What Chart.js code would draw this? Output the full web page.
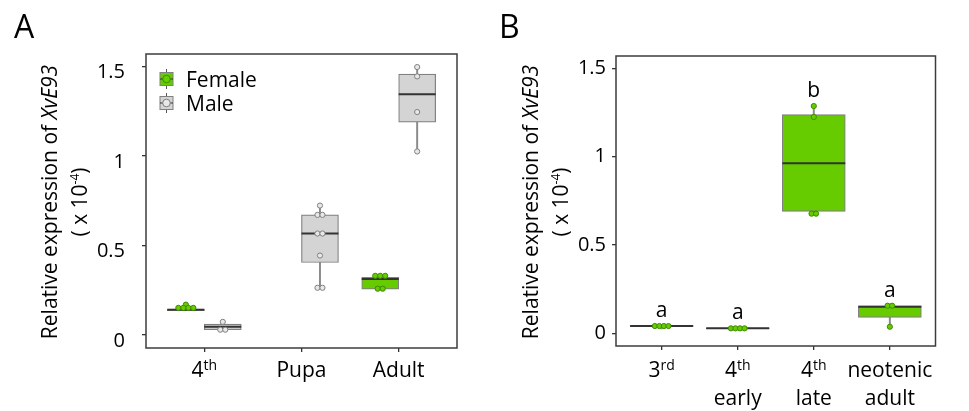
<!DOCTYPE html>
<html>
<head>
<meta charset="utf-8">
<script src="https://cdn.jsdelivr.net/npm/chart.js@4.4.1/dist/chart.umd.min.js"></script>
<style>
  body { margin: 0; background: #fff; width: 969px; height: 411px; overflow: hidden; position: relative; }
  canvas { position: absolute; top: 0; }
  #graficoA { left: 0; }
  #graficoB { left: 480px; }
</style>
</head>
<body>
<canvas id="graficoA" width="480" height="411"></canvas>
<canvas id="graficoB" width="489" height="411"></canvas>
<script>

// ---------------- datos panel A ----------------
const categoriasA = ['4th', 'Pupa', 'Adult'];
const etiquetaBaseA = ['4', 'Pupa', 'Adult'];
const etiquetaSupA = ['th', '', ''];

// Female (hembra): min, Q1, mediana, Q3, max
const hembraMinA = [0.137, null, 0.257];
const hembraQ1A  = [0.137, null, 0.257];
const hembraMedA = [0.141, null, 0.313];
const hembraQ3A  = [0.145, null, 0.323];
const hembraMaxA = [0.170, null, 0.331];
const hembraPuntosA = [[0.152, 0.152, 0.152, 0.152, 0.170], [], [0.331, 0.331, 0.331, 0.259, 0.259]];

// Male (macho)
const machoMinA = [0.030, 0.264, 1.025];
const machoQ1A  = [0.030, 0.405, 1.189];
const machoMedA = [0.046, 0.567, 1.345];
const machoQ3A  = [0.061, 0.671, 1.457];
const machoMaxA = [0.074, 0.723, 1.496];
const machoPuntosA = [[0.074, 0.030, 0.030], [0.723, 0.671, 0.671, 0.567, 0.567, 0.444, 0.264, 0.264], [1.496, 1.444, 1.245, 1.025]];

// ---------------- datos panel B ----------------
const categoriasB = ['3rd', '4th early', '4th late', 'neotenic adult'];
const etiquetaBaseB = ['3', '4', '4', 'neotenic'];
const etiquetaSupB = ['rd', 'th', 'th', ''];
const etiquetaLinea2B = ['', 'early', 'late', 'adult'];

const minB = [0.025, 0.024, 0.677, 0.037];
const q1B  = [0.038, 0.026, 0.690, 0.090];
const medB = [0.041, 0.028, 0.962, 0.150];
const q3B  = [0.043, 0.030, 1.237, 0.156];
const maxB = [0.043, 0.030, 1.286, 0.156];
const puntosB = [[0.041, 0.041, 0.041, 0.041], [0.028, 0.028, 0.028, 0.028], [1.286, 1.224, 0.677, 0.677], [0.156, 0.156, 0.037]];
const letrasB = ['a', 'a', 'b', 'a'];

const ticksY = [0, 0.5, 1, 1.5];

// ---------------- estilos ----------------
const FUENTE = '"Open Sans", "Noto Sans", sans-serif';
const VERDE = '#66cc00';
const VERDE_OSCURO = '#3d8a00';
const GRIS = '#d4d4d4';
const GRIS_PUNTO = '#e8e8e8';
const BORDE_CAJA = '#808080';
const DESPLAZA_A = 0.19;     // separacion hembra / macho
const ANCHO_CAJA_A = 37;     // px
const ANCHO_CAJA_B = 63;     // px
const PASO_A = 5 / 97.2;     // separacion de puntos en unidades de x
const PASO_B = 5 / 83.8;

// reparte puntos casi iguales en una fila horizontal (tipo dotplot)
function enjambre(centro, valores, paso) {
  const filas = [];
  valores.slice().sort((a, b) => b - a).forEach(v => {
    const fila = filas.find(f => Math.abs(f[0] - v) < 0.012);
    if (fila) fila.push(v); else filas.push([v]);
  });
  const res = [];
  filas.forEach(f => f.forEach((v, k) => res.push({ x: centro + (k - (f.length - 1) / 2) * paso, y: v })));
  return res;
}

function datasetsCaja(nombre, centros, mn, q1, med, q3, mx, puntos, relleno, rellenoPunto, bordePunto, ancho, paso) {
  const idx = centros.map((c, i) => i).filter(i => med[i] !== null);
  let pts = [];
  idx.forEach(i => { pts = pts.concat(enjambre(centros[i], puntos[i], paso)); });
  return [
    {
      type: 'bar', label: nombre + ' bigote', grouped: false, order: 3,
      data: idx.map(i => ({ x: centros[i], y: [mn[i], mx[i]] })),
      backgroundColor: '#8a8a8a', barThickness: 1.3
    },
    {
      type: 'bar', label: nombre, grouped: false, order: 2,
      data: idx.map(i => ({ x: centros[i], y: [q1[i], q3[i]] })),
      backgroundColor: relleno, borderColor: BORDE_CAJA, borderWidth: 1.2,
      borderSkipped: false, barThickness: ancho
    },
    {
      type: 'line', label: nombre + ' mediana', showLine: false, order: 1,
      data: idx.map(i => ({ x: centros[i], y: med[i] })),
      pointStyle: 'line', pointRadius: ancho / 2, pointBorderColor: '#333', pointBorderWidth: 2
    },
    {
      type: 'line', label: nombre + ' puntos', showLine: false, order: 0,
      data: pts,
      pointRadius: 2.6, pointBackgroundColor: rellenoPunto, pointBorderColor: bordePunto, pointBorderWidth: 1
    }
  ];
}

// texto con partes de distinta fuente, centrado en cx
function textoMixto(ctx, partes, cx, base) {
  let total = 0;
  partes.forEach(p => { ctx.font = p.fuente; p.w = ctx.measureText(p.texto).width; total += p.w; });
  let x = cx - total / 2;
  ctx.textAlign = 'left';
  ctx.textBaseline = 'alphabetic';
  partes.forEach(p => { ctx.font = p.fuente; ctx.fillText(p.texto, x, base - (p.subir || 0)); x += p.w; });
}

function dibujarTituloY(ctx, x1, x2, yc) {
  ctx.save();
  ctx.fillStyle = '#000';
  ctx.translate(x1, yc);
  ctx.rotate(-Math.PI / 2);
  textoMixto(ctx, [
    { texto: 'Relative expression of ', fuente: '21px ' + FUENTE },
    { texto: 'XvE93', fuente: 'italic 21px ' + FUENTE }
  ], 0, 0);
  ctx.restore();
  ctx.save();
  ctx.fillStyle = '#000';
  ctx.translate(x2, yc);
  ctx.rotate(-Math.PI / 2);
  textoMixto(ctx, [
    { texto: '( x 10', fuente: '21px ' + FUENTE },
    { texto: '-4', fuente: '12px ' + FUENTE, subir: 8 },
    { texto: ')', fuente: '21px ' + FUENTE }
  ], 0, 0);
  ctx.restore();
}

function dibujarEtiquetasX(chart, base, sup, linea2) {
  const ctx = chart.ctx;
  const escalaX = chart.scales.x;
  ctx.save();
  ctx.fillStyle = '#000';
  base.forEach((txt, i) => {
    const px = escalaX.getPixelForValue(i + 1);
    const partes = [{ texto: txt, fuente: '21px ' + FUENTE }];
    if (sup[i]) partes.push({ texto: sup[i], fuente: '14px ' + FUENTE, subir: 7 });
    textoMixto(ctx, partes, px, 376.5);
    if (linea2 && linea2[i]) textoMixto(ctx, [{ texto: linea2[i], fuente: '21px ' + FUENTE }], px, 405);
  });
  ctx.restore();
}

function dibujarMarco(chart) {
  const ctx = chart.ctx, a = chart.chartArea;
  ctx.save();
  ctx.strokeStyle = '#3c3c3c';
  ctx.lineWidth = 1.5;
  ctx.strokeRect(a.left, a.top, a.right - a.left, a.bottom - a.top);
  ctx.restore();
}

function dibujarLeyenda(ctx) {
  const items = [
    { texto: 'Female', relleno: VERDE, punto: VERDE, borde: VERDE_OSCURO, y: 79 },
    { texto: 'Male', relleno: GRIS, punto: GRIS_PUNTO, borde: BORDE_CAJA, y: 103 }
  ];
  ctx.save();
  items.forEach(it => {
    const cx = 166.5;
    ctx.strokeStyle = '#555';
    ctx.lineWidth = 1;
    ctx.beginPath(); ctx.moveTo(cx, it.y - 10); ctx.lineTo(cx, it.y + 10); ctx.stroke();
    ctx.fillStyle = it.relleno;
    ctx.fillRect(cx - 6.5, it.y - 6.5, 13, 13);
    ctx.strokeStyle = BORDE_CAJA;
    ctx.strokeRect(cx - 6.5, it.y - 6.5, 13, 13);
    ctx.strokeStyle = '#333';
    ctx.beginPath(); ctx.moveTo(cx - 6.5, it.y); ctx.lineTo(cx + 6.5, it.y); ctx.stroke();
    ctx.beginPath(); ctx.arc(cx, it.y, 3.8, 0, Math.PI * 2);
    ctx.fillStyle = it.punto; ctx.fill();
    ctx.strokeStyle = it.borde; ctx.stroke();
    ctx.fillStyle = '#000';
    ctx.font = '21px ' + FUENTE;
    ctx.textAlign = 'left';
    ctx.textBaseline = 'alphabetic';
    ctx.fillText(it.texto, 186, it.y + 8);
  });
  ctx.restore();
}

function escalas(categorias, maxX, anchoEjeY, altoEjeX, paddingTicks, offsetEtiqueta) {
  return {
    x: {
      type: 'linear', min: 0.4, max: maxX, offset: false,
      afterBuildTicks: s => { s.ticks = categorias.map((c, i) => ({ value: i + 1 })); },
      ticks: { display: false },
      grid: { drawOnChartArea: false, drawTicks: true, tickLength: 4, color: '#333', lineWidth: 1.3, offset: false },
      border: { display: false },
      afterFit: s => { s.height = altoEjeX; }
    },
    y: {
      min: -0.072, max: 1.569,
      afterBuildTicks: s => { s.ticks = ticksY.map(v => ({ value: v })); },
      ticks: {
        callback: v => String(v), color: '#000', padding: paddingTicks, labelOffset: offsetEtiqueta,
        font: { family: FUENTE, size: 20 }
      },
      grid: { drawOnChartArea: false, tickLength: 4, color: '#333', lineWidth: 1.3 },
      border: { display: false },
      afterFit: s => { s.width = anchoEjeY; }
    }
  };
}

function GraficoPanelA() {
  const centrosH = categoriasA.map((c, i) => i + 1 - DESPLAZA_A);
  const centrosM = categoriasA.map((c, i) => i + 1 + DESPLAZA_A);
  const datos = []
    .concat(datasetsCaja('Female', centrosH, hembraMinA, hembraQ1A, hembraMedA, hembraQ3A, hembraMaxA, hembraPuntosA, VERDE, VERDE, VERDE_OSCURO, ANCHO_CAJA_A, PASO_A))
    .concat(datasetsCaja('Male', centrosM, machoMinA, machoQ1A, machoMedA, machoQ3A, machoMaxA, machoPuntosA, GRIS, GRIS_PUNTO, BORDE_CAJA, ANCHO_CAJA_A, PASO_A));

  new Chart(document.getElementById('graficoA').getContext('2d'), {
    type: 'bar',
    data: { datasets: datos },
    options: {
      responsive: false, animation: false, events: [],
      layout: { padding: { top: 54, right: 23, left: 0, bottom: 0 } },
      plugins: { legend: { display: false }, tooltip: { enabled: false } },
      scales: escalas(categoriasA, 3.6, 146, 63, 17, 6)
    },
    plugins: [{
      id: 'decoraA',
      afterDraw(chart) {
        const ctx = chart.ctx;
        dibujarMarco(chart);
        dibujarEtiquetasX(chart, etiquetaBaseA, etiquetaSupA, null);
        dibujarTituloY(ctx, 57, 87, 202);
        dibujarLeyenda(ctx);
        ctx.save();
        ctx.fillStyle = '#000';
        ctx.font = '32px ' + FUENTE;
        ctx.textAlign = 'left';
        ctx.fillText('A', 14, 38);
        ctx.restore();
      }
    }]
  });
}

function GraficoPanelB() {
  const centros = categoriasB.map((c, i) => i + 1);
  const datos = datasetsCaja('B', centros, minB, q1B, medB, q3B, maxB, puntosB, VERDE, VERDE, VERDE_OSCURO, ANCHO_CAJA_B, PASO_B);

  new Chart(document.getElementById('graficoB').getContext('2d'), {
    type: 'bar',
    data: { datasets: datos },
    options: {
      responsive: false, animation: false, events: [],
      layout: { padding: { top: 56, right: 1.5, left: 0, bottom: 0 } },
      plugins: { legend: { display: false }, tooltip: { enabled: false } },
      scales: escalas(categoriasB, 4.6, 136, 65, 6, 0)
    },
    plugins: [{
      id: 'decoraB',
      afterDraw(chart) {
        const ctx = chart.ctx;
        dibujarMarco(chart);
        dibujarEtiquetasX(chart, etiquetaBaseB, etiquetaSupB, etiquetaLinea2B);
        dibujarTituloY(ctx, 58, 88, 202);
        // letras de significancia encima de cada caja
        ctx.save();
        ctx.fillStyle = '#000';
        ctx.font = '21px ' + FUENTE;
        ctx.textAlign = 'center';
        ctx.textBaseline = 'alphabetic';
        letrasB.forEach((l, i) => {
          ctx.fillText(l, chart.scales.x.getPixelForValue(i + 1), chart.scales.y.getPixelForValue(maxB[i]) - 9);
        });
        ctx.font = '32px ' + FUENTE;
        ctx.textAlign = 'left';
        ctx.fillText('B', 19, 38);
        ctx.restore();
      }
    }]
  });
}

GraficoPanelA();
GraficoPanelB();
</script>
</body>
</html>
